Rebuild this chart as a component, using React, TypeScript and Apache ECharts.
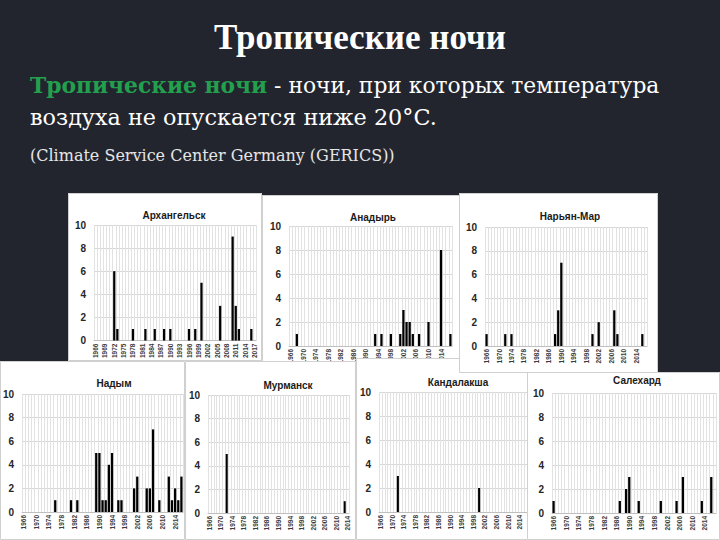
import React, { useEffect, useRef } from "react";
import * as echarts from "echarts";

// ---- categories ----
function yearRange(from: number, to: number): string[] {
  const out: string[] = [];
  for (let y = from; y <= to; y++) out.push(String(y));
  return out;
}
const YEARS_1966_2017 = yearRange(1966, 2017);
const YEARS_1966_2016 = yearRange(1966, 2016);
const YEARS_1966_2014 = yearRange(1966, 2014);

// ---- values (tropical nights per year) ----
const arkhangelsk = [
  0, 0, 0, 0, 0, 0, 6, 1, 0, 0, 0, 0, 1, 0, 0, 0, 1, 0, 0, 1, 0, 0, 1, 0, 1, 0,
  0, 0, 0, 0, 1, 0, 1, 0, 5, 0, 0, 0, 0, 0, 3, 0, 0, 0, 9, 3, 1, 0, 0, 0, 1, 0,
];
const anadyr = [
  0, 0, 1, 0, 0, 0, 0, 0, 0, 0, 0, 0, 0, 0, 0, 0, 0, 0, 0, 0, 0, 0, 0, 0, 0, 0,
  0, 1, 0, 1, 0, 0, 1, 0, 0, 1, 3, 2, 2, 1, 0, 1, 0, 0, 2, 0, 0, 0, 8, 0, 0, 1,
];
const naryanMar = [
  1, 0, 0, 0, 0, 0, 1, 0, 1, 0, 0, 0, 0, 0, 0, 0, 0, 0, 0, 0, 0, 0, 1, 3, 7, 0,
  0, 0, 0, 0, 0, 0, 0, 0, 1, 0, 2, 0, 0, 0, 0, 3, 1, 0, 0, 0, 0, 0, 0, 0, 1, 0,
];
const nadym = [
  0, 0, 0, 0, 0, 0, 0, 0, 0, 0, 1, 0, 0, 0, 0, 1, 0, 1, 0, 0, 0, 0, 0, 5, 5, 1,
  1, 4, 5, 0, 1, 1, 0, 0, 0, 2, 3, 0, 0, 2, 2, 7, 0, 1, 0, 0, 3, 1, 2, 1, 3,
];
const murmansk = [
  0, 0, 0, 0, 0, 0, 5, 0, 0, 0, 0, 0, 0, 0, 0, 0, 0, 0, 0, 0, 0, 0, 0, 0, 0, 0,
  0, 0, 0, 0, 0, 0, 0, 0, 0, 0, 0, 0, 0, 0, 0, 0, 0, 0, 0, 0, 0, 1, 0,
];
const kandalaksha = [
  0, 0, 0, 0, 0, 0, 3, 0, 0, 0, 0, 0, 0, 0, 0, 0, 0, 0, 0, 0, 0, 0, 0, 0, 0, 0,
  0, 0, 0, 0, 0, 0, 0, 0, 2, 0, 0, 0, 0, 0, 0, 0, 0, 0, 0, 0, 0, 0, 0, 0, 0,
];
const salekhard = [
  1, 0, 0, 0, 0, 0, 0, 0, 0, 0, 0, 0, 0, 0, 0, 0, 0, 0, 0, 0, 0, 1, 0, 2, 3, 0,
  0, 1, 0, 0, 0, 0, 0, 0, 1, 0, 0, 0, 0, 1, 0, 3, 0, 0, 0, 0, 0, 1, 0, 0, 3, 0,
];

const Y_TICKS = [0, 2, 4, 6, 8, 10];

const TITLE_TEXT = "Тропические ночи";
const TERM_TEXT = "Тропические ночи";
const DEF_LINE1 = " - ночи, при которых температура";
const DEF_LINE2 = "воздуха не опускается ниже 20°C.";
const SOURCE_TEXT = "(Climate Service Center Germany (GERICS))";

type PanelCfg = {
  name: string;
  years: string[];
  values: number[];
  labelInterval: number;
  box: [number, number, number, number]; // x, y, w, h
  titlePos: [number, number];
  grid: [number, number, number, number]; // left, right, top, bottom
};

const PANELS: PanelCfg[] = [
  { name: "Архангельск", years: YEARS_1966_2017, values: arkhangelsk, labelInterval: 2,
    box: [68, 193, 194, 168], titlePos: [106, 22], grid: [26, 6, 32, 20] },
  { name: "Анадырь", years: YEARS_1966_2017, values: anadyr, labelInterval: 3,
    box: [262, 195, 198, 175], titlePos: [111, 22], grid: [27, 8, 31, 24] },
  { name: "Надым", years: YEARS_1966_2016, values: nadym, labelInterval: 3,
    box: [0, 361, 185, 179], titlePos: [114, 22], grid: [22, 2, 33, 28] },
  { name: "Мурманск", years: YEARS_1966_2014, values: murmansk, labelInterval: 3,
    box: [185, 361, 171, 179], titlePos: [103, 24], grid: [23, 7, 34, 27] },
  { name: "Кандалакша", years: YEARS_1966_2016, values: kandalaksha, labelInterval: 3,
    box: [356, 358, 172, 182], titlePos: [102, 24], grid: [23, 1, 34, 28] },
  { name: "Салехард", years: YEARS_1966_2017, values: salekhard, labelInterval: 3,
    box: [527, 372, 193, 168], titlePos: [110, 8], grid: [25, 4, 21, 27] },
  { name: "Нарьян-Мар", years: YEARS_1966_2017, values: naryanMar, labelInterval: 3,
    box: [459, 193, 199, 180], titlePos: [111, 23], grid: [26, 11, 34, 27] },
];

const SANS = "'Liberation Sans', Arial, sans-serif";

function Panel({ cfg }: { cfg: PanelCfg }) {
  const ref = useRef<HTMLDivElement>(null);
  useEffect(() => {
    if (!ref.current) return;
    const chart = echarts.init(ref.current, undefined, { renderer: "svg" });
    chart.setOption({
      animation: false,
      backgroundColor: "#ffffff",
      graphic: [
        {
          type: "rect",
          shape: { x: 0.5, y: 0.5, width: cfg.box[2] - 1, height: cfg.box[3] - 1 },
          style: { fill: "none", stroke: "#d0d0d0", lineWidth: 1 },
          silent: true,
        },
        {
          type: "text",
          x: cfg.titlePos[0],
          y: cfg.titlePos[1],
          style: {
            text: cfg.name,
            textAlign: "center",
            textVerticalAlign: "middle",
            fontFamily: SANS,
            fontWeight: "bold",
            fontSize: 10,
            fill: "#1a1a1a",
          },
        },
      ],
      grid: {
        left: cfg.grid[0],
        right: cfg.grid[1],
        top: cfg.grid[2],
        bottom: cfg.grid[3],
      },
      xAxis: {
        type: "category",
        data: cfg.years,
        boundaryGap: true,
        axisLine: { show: true, lineStyle: { color: "#bfbfbf", width: 1 } },
        axisTick: { show: false },
        axisLabel: {
          interval: cfg.labelInterval,
          rotate: 90,
          fontSize: 6.5,
          fontFamily: SANS,
          fontWeight: "bold",
          color: "#3a3a3a",
          margin: 3,
        },
        splitLine: { show: true, interval: 0, lineStyle: { color: "#e2e2e2", width: 1 } },
      },
      yAxis: {
        type: "value",
        min: Y_TICKS[0],
        max: Y_TICKS[Y_TICKS.length - 1],
        interval: 2,
        axisLine: { show: false },
        axisTick: { show: false },
        axisLabel: {
          fontSize: 10,
          fontWeight: "bold",
          fontFamily: SANS,
          color: "#262626",
          margin: 8,
        },
        splitLine: { show: true, lineStyle: { color: "#d6d6d6", width: 1 } },
      },
      series: [
        {
          type: "bar",
          data: cfg.values,
          barWidth: "72%",
          itemStyle: { color: "#000000" },
        },
      ],
    });
    return () => chart.dispose();
  }, [cfg]);
  const [x, y, w, h] = cfg.box;
  return (
    <div
      ref={ref}
      style={{ position: "absolute", left: x, top: y, width: w, height: h }}
    />
  );
}

function Header() {
  const ref = useRef<HTMLDivElement>(null);
  useEffect(() => {
    if (!ref.current) return;
    const chart = echarts.init(ref.current, undefined, { renderer: "svg" });
    chart.setOption({
      animation: false,
      backgroundColor: "#23252e",
      graphic: [
        {
          type: "text",
          x: 360,
          y: 37,
          style: {
            text: TITLE_TEXT,
            textAlign: "center",
            textVerticalAlign: "middle",
            fontFamily: "'Liberation Serif', 'Times New Roman', serif",
            fontWeight: "bold",
            fontSize: 35,
            fill: "#ffffff",
          },
        },
        {
          type: "text",
          x: 30,
          y: 85,
          style: {
            text: "{g|" + TERM_TEXT + "}" + DEF_LINE1,
            textAlign: "left",
            textVerticalAlign: "middle",
            fontFamily: "'DejaVu Serif', serif",
            fontSize: 21.8,
            fill: "#ffffff",
            rich: {
              g: {
                fill: "#22a04e",
                fontWeight: "bold",
                fontFamily: "'DejaVu Serif', serif",
                fontSize: 21.8,
              },
            },
          },
        },
        {
          type: "text",
          x: 30,
          y: 117,
          style: {
            text: DEF_LINE2,
            textAlign: "left",
            textVerticalAlign: "middle",
            fontFamily: "'DejaVu Serif', serif",
            fontSize: 22.3,
            fill: "#ffffff",
          },
        },
        {
          type: "text",
          x: 30,
          y: 155,
          style: {
            text: SOURCE_TEXT,
            textAlign: "left",
            textVerticalAlign: "middle",
            fontFamily: "'DejaVu Serif', serif",
            fontSize: 16,
            fill: "#e6e6e6",
          },
        },
      ],
    });
    return () => chart.dispose();
  }, []);
  return (
    <div
      ref={ref}
      style={{ position: "absolute", left: 0, top: 0, width: 720, height: 540 }}
    />
  );
}

export default function App() {
  return (
    <div
      style={{
        position: "absolute",
        left: 0,
        top: 0,
        width: 720,
        height: 540,
        overflow: "hidden",
        background: "#23252e",
      }}
    >
      <Header />
      {PANELS.map((p) => (
        <Panel key={p.name} cfg={p} />
      ))}
    </div>
  );
}
